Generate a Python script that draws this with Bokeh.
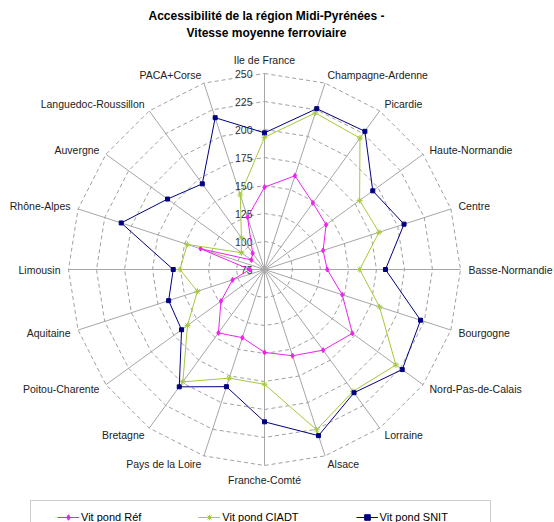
import numpy as np
from bokeh.plotting import figure
from bokeh.models import Range1d, Label, Legend, LegendItem, BoxAnnotation
from bokeh.core.properties import value
from bokeh.embed import file_html
from bokeh.resources import INLINE

# ---------------- data ----------------
categories = ["Ile de France", "Champagne-Ardenne", "Picardie", "Haute-Normandie",
              "Centre", "Basse-Normandie", "Bourgogne", "Nord-Pas-de-Calais",
              "Lorraine", "Alsace", "Franche-Comté", "Pays de la Loire", "Bretagne",
              "Poitou-Charente", "Aquitaine", "Limousin", "Rhône-Alpes", "Auvergne",
              "Languedoc-Roussillon", "PACA+Corse"]
ref = [148.5, 163, 148.5, 143, 130, 131, 148, 172, 164, 156,
       149, 139, 145, 123, 105, 88, 135, 89.5, 93, 124]
ciadt = [193, 222, 220, 180, 182.5, 160, 183, 220, 209.5, 225.5,
         177.5, 177, 199, 160, 138, 150.5, 147.5, 100.5, 110, 145]
snit = [197, 226, 227.5, 194.5, 206, 183, 221.5, 227, 211, 231,
        211, 185, 204.5, 166.5, 165, 156.5, 209.5, 182, 169.5, 217.5]
series_names = ["Vit pond Réf", "Vit pond CIADT", "Vit pond SNIT"]
tick_values = [75, 100, 125, 150, 175, 200, 225, 250]
title_lines = ["Accessibilité de la région Midi-Pyrénées -", "Vitesse moyenne ferroviaire"]

# ---------------- layout ----------------
W, H = 554, 522
CX, CY = 264, 269          # centre in pixels (from top-left)
RMIN, RMAX = tick_values[0], tick_values[-1]
K = 196.0 / (RMAX - RMIN)  # pixels per unit

def px_x(px):
    return (px - CX) / K

def px_y(py):
    return (CY - py) / K

p = figure(width=W, height=H, output_backend="svg", toolbar_location=None,
           x_range=Range1d(px_x(0), px_x(W)), y_range=Range1d(px_y(H), px_y(0)),
           x_axis_location=None, y_axis_location=None, min_border=0)
p.grid.visible = False
p.outline_line_color = None
p.background_fill_color = "white"
p.border_fill_color = "white"

n = len(categories)
theta = np.arange(n) * 2 * np.pi / n
sin_t, cos_t = np.sin(theta), np.cos(theta)
span = RMAX - RMIN

# spokes
p.segment(x0=np.zeros(n), y0=np.zeros(n), x1=span * sin_t, y1=span * cos_t,
          line_color="#a6a6a6", line_width=1)

# rings (polygons)
xs, ys = [], []
for t in tick_values[1:]:
    r = t - RMIN
    xs.append(list(r * np.append(sin_t, sin_t[0])))
    ys.append(list(r * np.append(cos_t, cos_t[0])))
p.multi_line(xs=xs, ys=ys, line_color="#a0a0a0", line_width=1, line_dash="4 3")

# radial tick labels
tick_r = [t - RMIN for t in tick_values]
p.text(x=[px_x(CX - 12)] * len(tick_values), y=tick_r, text=[str(t) for t in tick_values],
       text_align="right", text_baseline="middle", text_font=value("Liberation Sans"),
       text_font_size="10.5px", text_color="#333333")

# series
colors = ["#EE22EE", "#A5C93B", "#000080"]
markers = ["diamond", "asterisk", "square"]
msizes = [5, 6, 4]
items = []
for name, vals, col, mk, ms in zip(series_names, [ref, ciadt, snit], colors, markers, msizes):
    r = np.array(vals, dtype=float) - RMIN
    x = r * sin_t
    y = r * cos_t
    lr = p.line(x=list(np.append(x, x[0])), y=list(np.append(y, y[0])),
                line_color=col, line_width=1)
    sr = p.scatter(x=x, y=y, marker=mk, size=ms, fill_color=col, line_color=col)
    items.append(LegendItem(label=name, renderers=[lr, sr]))

# category labels
lab_r = span + 8 / K
groups = {"left": ([], [], []), "right": ([], [], []), "top": ([], [], []), "bottom": ([], [], [])}
for i, c in enumerate(categories):
    s, co = sin_t[i], cos_t[i]
    if s > 0.05:
        g = "left"
    elif s < -0.05:
        g = "right"
    elif co > 0:
        g = "top"
    else:
        g = "bottom"
    groups[g][0].append(lab_r * s)
    groups[g][1].append(lab_r * co)
    groups[g][2].append(c)
settings = {"left": ("left", "middle"), "right": ("right", "middle"),
            "top": ("center", "bottom"), "bottom": ("center", "top")}
for g, (gx, gy, gt) in groups.items():
    if not gt:
        continue
    al, bl = settings[g]
    p.text(x=gx, y=gy, text=gt, text_align=al, text_baseline=bl,
           text_font=value("Liberation Sans"), text_font_size="10.5px", text_color="#222222")

# title
for j, line in enumerate(title_lines):
    p.add_layout(Label(x=px_x(266), y=px_y(15 + 17.5 * j), text=line, text_align="center",
                       text_baseline="middle", text_font="Liberation Sans",
                       text_font_size="12px", text_font_style="bold", text_color="#000000"))

# legend box
p.add_layout(BoxAnnotation(left=px_x(30), right=px_x(490), top=px_y(500), bottom=px_y(540),
                           fill_alpha=0, line_color="#555555", line_width=1))

legend = Legend(items=items, orientation="horizontal", location=(57, -2),
                padding=4, spacing=57, glyph_width=22, glyph_height=14, label_standoff=2,
                label_text_font="Liberation Sans", label_text_font_size="11px",
                label_text_color="#000000", border_line_color=None,
                background_fill_alpha=0)
p.add_layout(legend, "center")

open("out.html", "w").write(file_html(p, INLINE))
